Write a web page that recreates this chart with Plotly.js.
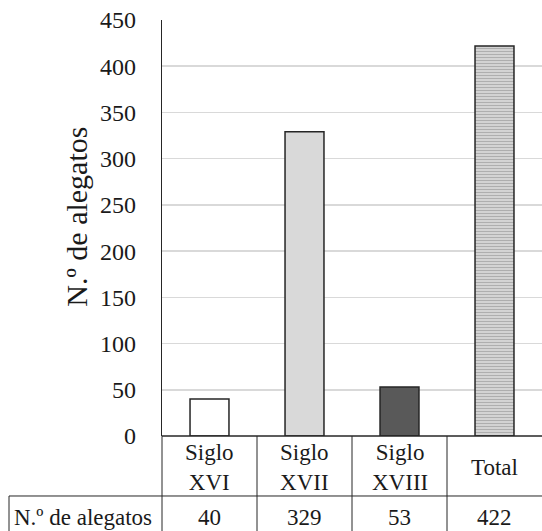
<!DOCTYPE html>
<html>
<head>
<meta charset="utf-8">
<script src="https://cdn.plot.ly/plotly-3.0.1.min.js"></script>
<style>html,body{margin:0;padding:0;background:#fff}#chart{width:542px;height:531px}</style>
</head>
<body>
<div id="chart"></div>
<script>
const categories = ["Siglo XVI", "Siglo XVII", "Siglo XVIII", "Total"];
const categoryLabels = ["Siglo<br>XVI", "Siglo<br>XVII", "Siglo<br>XVIII", "Total"];
const values = [40, 329, 53, 422];
const rowLabel = "N.º de alegatos";
const yTitle = "N.º de alegatos";
const yTicks = [0, 50, 100, 150, 200, 250, 300, 350, 400, 450];

const fillColors = ["#ffffff", "#d9d9d9", "#595959", "#ffffff"];
const patternShapes = ["", "", "", "-"];

const FONT = "Liberation Serif";
const ROW1_MID = -0.0757, ROW_SPLIT = -0.1442, ROW2_MID = -0.1959, TABLE_BOTTOM = -0.26;
const LEFT_CELL = -0.4026, LEFT_MID = -0.2066;

const traces = categories.map((c, i) => ({
  type: "bar",
  x: [i],
  y: [values[i]],
  width: 0.41,
  marker: {
    color: fillColors[i],
    line: {color: "#262626", width: 1.5},
    pattern: patternShapes[i] ? {shape: patternShapes[i], fgcolor: "#5e5e5e", bgcolor: "#ffffff", size: 3, solidity: 0.7, fillmode: "overlay"} : undefined
  },
  name: c,
  hoverinfo: "skip"
}));

const shapes = [];
const lineStyle = {color: "#262626", width: 1};
shapes.push({type: "line", xref: "paper", yref: "paper", x0: 0, x1: 1, y0: 0, y1: 0, line: {color: "#262626", width: 1.3}});
shapes.push({type: "line", xref: "paper", yref: "paper", x0: LEFT_CELL, x1: 1, y0: ROW_SPLIT, y1: ROW_SPLIT, line: lineStyle});
shapes.push({type: "line", xref: "paper", yref: "paper", x0: LEFT_CELL, x1: LEFT_CELL, y0: ROW_SPLIT, y1: TABLE_BOTTOM, line: lineStyle});
shapes.push({type: "line", xref: "paper", yref: "paper", x0: 0, x1: 0, y0: 0, y1: TABLE_BOTTOM, line: lineStyle});
for (let i = 0; i < categories.length - 1; i++) {
  shapes.push({type: "line", xref: "x", yref: "paper", x0: i + 0.5, x1: i + 0.5, y0: 0, y1: TABLE_BOTTOM, line: lineStyle});
}

const cellFont = {family: FONT, size: 23, color: "#1a1a1a"};
const annotations = [];
categories.forEach((c, i) => {
  annotations.push({xref: "x", yref: "paper", x: i, y: ROW1_MID, text: categoryLabels[i], showarrow: false,
    font: cellFont, yanchor: "middle", xanchor: "center"});
  annotations.push({xref: "x", yref: "paper", x: i, y: ROW2_MID, text: String(values[i]), showarrow: false,
    font: cellFont, yanchor: "middle", xanchor: "center"});
});
annotations.push({xref: "paper", yref: "paper", x: LEFT_MID, y: ROW2_MID, text: rowLabel, showarrow: false,
  font: cellFont, yanchor: "middle", xanchor: "center"});
annotations.push({xref: "paper", yref: "paper", x: -0.226, y: 0.5276, text: yTitle, showarrow: false, textangle: -90,
  font: {family: FONT, size: 30, color: "#1a1a1a"}, xanchor: "center", yanchor: "middle"});

const layout = {
  width: 542, height: 531,
  margin: {l: 162, r: 0, t: 20, b: 95},
  paper_bgcolor: "#ffffff", plot_bgcolor: "#ffffff",
  showlegend: false,
  barmode: "overlay",
  font: {family: FONT, color: "#1a1a1a"},
  xaxis: {range: [-0.5, 3.5], showticklabels: false, showgrid: false, zeroline: false, showline: false, fixedrange: true},
  yaxis: {
    range: [0, 450], tickvals: yTicks, ticktext: yTicks.map(String),
    showgrid: true, gridcolor: "#d9d9d9", gridwidth: 1.5,
    zeroline: false, showline: true, linecolor: "#262626", linewidth: 1.3,
    ticks: "", ticklabelstandoff: 20,
    tickfont: {family: FONT, size: 24, color: "#1a1a1a"},
    automargin: false, fixedrange: true
  },
  shapes: shapes,
  annotations: annotations
};

Plotly.newPlot("chart", traces, layout, {displayModeBar: false, staticPlot: true});
</script>
</body>
</html>
